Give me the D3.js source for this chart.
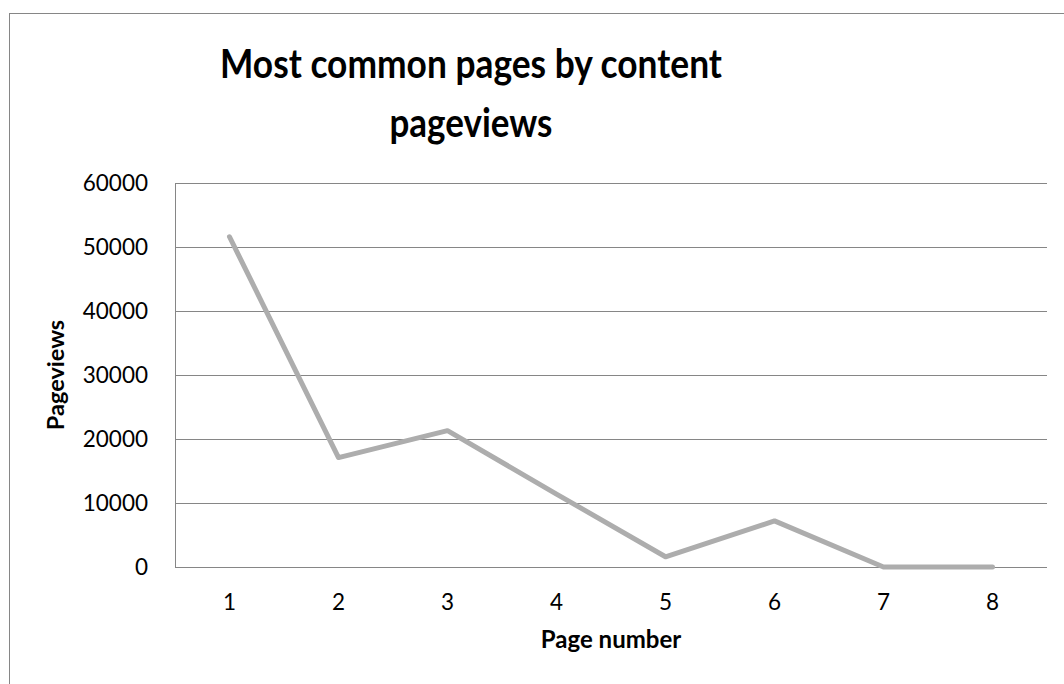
<!DOCTYPE html>
<html>
<head>
<meta charset="utf-8">
<script src="https://cdn.jsdelivr.net/npm/d3@7"></script>
<style>
  html, body { margin: 0; padding: 0; background: #fff; }
  svg { display: block; }
  text { font-family: Lato, "Open Sans", sans-serif; fill: #000; }
</style>
</head>
<body>
<svg id="chart" width="1064" height="684"></svg>
<script>
// ---- data ----
const categories = ["1", "2", "3", "4", "5", "6", "7", "8"];
const pageviews = [51600, 17100, 21300, 11400, 1600, 7200, 0, 0];
const yTicks = [0, 10000, 20000, 30000, 40000, 50000, 60000];
const titleLines = ["Most common pages by content", "pageviews"];
const xAxisTitle = "Page number";
const yAxisTitle = "Pageviews";

// ---- layout ----
const W = 1064, H = 684;
const plot = { left: 175, right: 1047, top: 183, bottom: 567 };
const titleWidths = [502, 163];
const svg = d3.select("#chart");

// outer chart border
svg.append("rect")
  .attr("x", 9.5).attr("y", 13.5)
  .attr("width", W + 20).attr("height", H + 20)
  .attr("fill", "#fff").attr("stroke", "#868686").attr("stroke-width", 1);

const x = d3.scaleBand().domain(categories).range([plot.left, plot.right]);
const y = d3.scaleLinear().domain([0, 60000]).range([plot.bottom, plot.top]);
const cx = c => x(c) + x.bandwidth() / 2;

// gridlines
svg.append("g").selectAll("line").data(yTicks).join("line")
  .attr("x1", plot.left).attr("x2", plot.right)
  .attr("y1", d => Math.round(y(d)) + 0.5).attr("y2", d => Math.round(y(d)) + 0.5)
  .attr("stroke", "#868686").attr("stroke-width", 1);

// left axis line
svg.append("line")
  .attr("x1", plot.left + 0.5).attr("x2", plot.left + 0.5)
  .attr("y1", plot.top).attr("y2", plot.bottom + 0.5)
  .attr("stroke", "#868686").attr("stroke-width", 1);

// y tick labels
svg.append("g").selectAll("text").data(yTicks).join("text")
  .attr("x", 148).attr("y", d => y(d)).attr("dy", "0.36em")
  .attr("text-anchor", "end").attr("font-size", 22.5)
  .text(d => d);

// x tick labels
svg.append("g").selectAll("text").data(categories).join("text")
  .attr("x", d => cx(d)).attr("y", 610)
  .attr("text-anchor", "middle").attr("font-size", 22.5)
  .text(d => d);

// line
const line = d3.line().x((d, i) => cx(categories[i])).y(d => y(d));
svg.append("path").datum(pageviews)
  .attr("d", line).attr("fill", "none")
  .attr("stroke", "#ADADAD").attr("stroke-width", 5)
  .attr("stroke-linejoin", "round").attr("stroke-linecap", "round");

// title
svg.append("g").selectAll("text").data(titleLines).join("text")
  .attr("x", 471).attr("y", (d, i) => 78 + i * 59)
  .attr("text-anchor", "middle").attr("font-size", 41).attr("font-weight", "bold")
  .attr("textLength", (d, i) => titleWidths[i])
  .attr("lengthAdjust", "spacingAndGlyphs")
  .text(d => d);

// axis titles
svg.append("text")
  .attr("x", 611).attr("y", 648)
  .attr("text-anchor", "middle").attr("font-size", 24).attr("font-weight", "bold")
  .text(xAxisTitle);

svg.append("text")
  .attr("transform", "translate(64,375) rotate(-90)")
  .attr("text-anchor", "middle").attr("font-size", 23.5).attr("font-weight", "bold")
  .text(yAxisTitle);
</script>
</body>
</html>
